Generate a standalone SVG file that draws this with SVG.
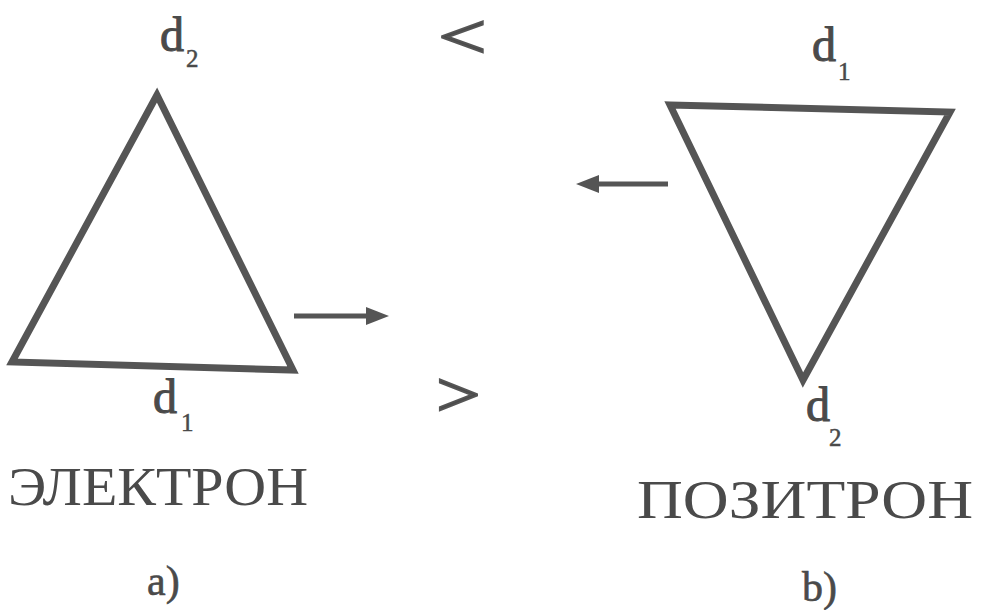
<svg xmlns="http://www.w3.org/2000/svg" width="981" height="610" viewBox="0 0 981 610">
<defs>
<style>
.tri{fill:none;stroke:#555;stroke-width:7;stroke-linejoin:miter}
.t{font-family:"Liberation Serif","Times New Roman",serif;fill:#4a4a4a}
.d{font-size:48px;stroke:#4a4a4a;stroke-width:1}
.s{font-size:25px;stroke:#4a4a4a;stroke-width:0.5}
.big{font-size:54px}
.ab{font-size:42px;stroke:#4a4a4a;stroke-width:0.6}
.sym{font-size:72px;stroke:#555;stroke-width:2}
.shaft{stroke:#555;stroke-width:5;fill:none}
.head{fill:#555}
</style>
</defs>
<rect width="981" height="610" fill="#fff"/>
<g id="electron">
<polygon class="tri" points="157,95 12,362 293,370"/>
<text class="t d" x="160" y="51">d</text><text class="t s" x="186" y="67">2</text>
<text class="t d" x="153" y="413">d</text><text class="t s" x="181" y="431">1</text>
<text class="t big" x="8" y="505" textLength="300" lengthAdjust="spacingAndGlyphs">ЭЛЕКТРОН</text>
<text class="t ab" x="147" y="595">a)</text>
</g>
<g id="positron">
<polygon class="tri" points="670,105 950,112 803,380"/>
<text class="t d" x="812" y="61">d</text><text class="t s" x="838" y="80">1</text>
<text class="t d" x="806" y="421">d</text><text class="t s" x="829" y="446">2</text>
<text class="t big" x="637" y="518" textLength="336" lengthAdjust="spacingAndGlyphs">ПОЗИТРОН</text>
<text class="t ab" x="802" y="601">b)</text>
</g>
<g id="symbols">
<text class="t sym" transform="translate(438,58) scale(1.2,0.88)" x="0" y="0">&lt;</text>
<text class="t sym" transform="translate(436,416) scale(1.1,0.88)" x="0" y="0">&gt;</text>
</g>
<g id="connectors">
<line class="shaft" x1="294" y1="316" x2="370" y2="316"/>
<polygon class="head" points="389,316 366,307 366,325"/>
<line class="shaft" x1="668" y1="184" x2="595" y2="184"/>
<polygon class="head" points="576,184 599,175 599,193"/>
</g>
</svg>
